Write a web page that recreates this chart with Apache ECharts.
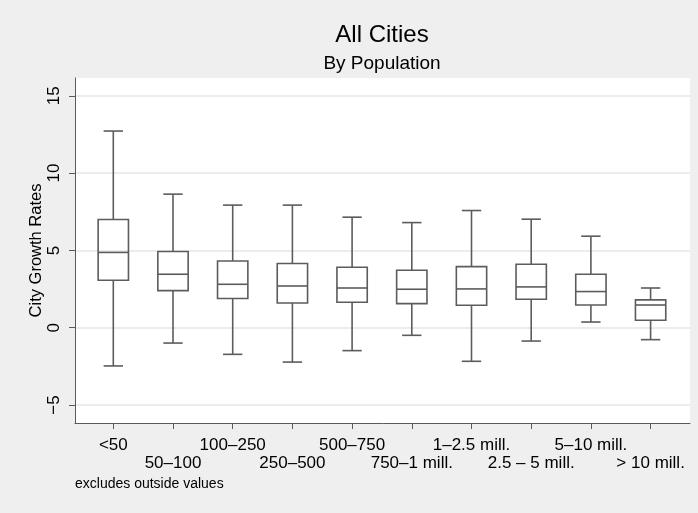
<!DOCTYPE html>
<html><head><meta charset="utf-8">
<script src="https://cdn.jsdelivr.net/npm/echarts@6/dist/echarts.min.js"></script>
<style>html,body{margin:0;padding:0;background:#efefef}#c{width:698px;height:513px}</style>
</head><body><div id="c"></div>
<script>
// ---- data ----
const categories = ['<50', '50–100', '100–250', '250–500', '500–750', '750–1 mill.', '1–2.5 mill.', '2.5 – 5 mill.', '5–10 mill.', '> 10 mill.'];
const whiskerLow  = [-2.47, -0.99, -1.72, -2.22, -1.48, -0.49, -2.17, -0.86, 0.37, -0.77];
const q1          = [ 3.07,  2.40,  1.89,  1.60,  1.65,  1.56,  1.45,  1.84, 1.47,  0.48];
const median      = [ 4.87,  3.46,  2.81,  2.70,  2.57,  2.49,  2.51,  2.64, 2.34,  1.47];
const q3          = [ 7.00,  4.93,  4.32,  4.15,  3.91,  3.72,  3.95,  4.11, 3.46,  1.80];
const whiskerHigh = [12.72,  8.64,  7.93,  7.93,  7.15,  6.80,  7.58,  7.02, 5.92,  2.57];
const yTicks = [-5, 0, 5, 10, 15];
const yMin = -6.16, yMax = 16.15;
const titleText = 'All Cities';
const subtitleText = 'By Population';
const yTitle = 'City Growth Rates';
const noteText = 'excludes outside values';

const FONT = "'Liberation Sans', Arial, Helvetica, sans-serif";
const LINE = '#5c5c5c';
const AXIS = '#5a5a5a';

const boxData = categories.map((c, i) => [i, whiskerLow[i], q1[i], median[i], q3[i], whiskerHigh[i]]);
const fmtY = v => (v < 0 ? '\u2212' + Math.abs(v) : String(v));

const chart = echarts.init(document.getElementById('c'), null, {renderer: 'canvas'});
chart.setOption({
  backgroundColor: '#efefef',
  animation: false,
  title: [
    {text: titleText, left: 377, top: 18, textAlign: 'center', padding: 5,
     textStyle: {fontSize: 24, fontWeight: 'normal', color: '#000', fontFamily: FONT}},
    {text: subtitleText, left: 377, top: 49, textAlign: 'center', padding: 5,
     textStyle: {fontSize: 19, fontWeight: 'normal', color: '#000', fontFamily: FONT}},
    {text: noteText, left: 70, top: 472, padding: 5,
     textStyle: {fontSize: 14, fontWeight: 'normal', color: '#000', fontFamily: FONT}}
  ],
  grid: [
    {left: 75, right: 8, top: 78, bottom: 90, show: true, backgroundColor: '#fff', borderWidth: 0, containLabel: false},
    {left: 83.45, width: 597, top: 78, bottom: 90, containLabel: false}
  ],
  xAxis: [
    {gridIndex: 0, type: 'value', min: 0, max: 1,
     axisLine: {show: true, onZero: false, lineStyle: {color: AXIS, width: 1}},
     axisTick: {show: false}, axisLabel: {show: false}, splitLine: {show: false}},
    {gridIndex: 1, type: 'category', data: categories, boundaryGap: true, position: 'bottom',
     axisLine: {show: false, onZero: false},
     axisTick: {show: true, alignWithLabel: true, length: 6, lineStyle: {color: AXIS, width: 1}},
     axisLabel: {show: true, interval: 0, margin: 13, color: '#000', fontSize: 17, fontFamily: FONT, lineHeight: 18,
       formatter: (v, idx) => (idx % 2 ? '\n' + v : v)},
     splitLine: {show: false}}
  ],
  yAxis: [
    {gridIndex: 0, type: 'value', min: yMin, max: yMax,
     name: yTitle, nameLocation: 'middle', nameRotate: 90, nameGap: 30, nameMoveOverlap: false,
     nameTextStyle: {fontSize: 16.5, color: '#000', fontFamily: FONT},
     axisLine: {show: true, onZero: false, lineStyle: {color: AXIS, width: 1}},
     axisTick: {show: true, length: 6, customValues: yTicks, lineStyle: {color: AXIS, width: 1}},
     axisLabel: {show: true, rotate: 90, margin: 12, customValues: yTicks, color: '#000', fontSize: 17, fontFamily: FONT,
       formatter: fmtY},
     splitLine: {show: true, lineStyle: {color: '#e6e6e6', width: 1.5}}},
    {gridIndex: 1, type: 'value', min: yMin, max: yMax, show: false,
     axisLine: {show: false}, axisTick: {show: false}, axisLabel: {show: false}, splitLine: {show: false}}
  ],
  series: [{
    type: 'custom',
    xAxisIndex: 1, yAxisIndex: 1,
    data: boxData,
    encode: {x: 0, y: [1, 2, 3, 4, 5]},
    renderItem: function (params, api) {
      const i = api.value(0);
      const lo = api.coord([i, api.value(1)]);
      const b1 = api.coord([i, api.value(2)]);
      const md = api.coord([i, api.value(3)]);
      const b3 = api.coord([i, api.value(4)]);
      const hi = api.coord([i, api.value(5)]);
      const band = api.size([1, 0])[0];
      const hw = band * 0.254;
      const cw = band * 0.162;
      const x = lo[0];
      const st = {stroke: LINE, lineWidth: 1.6, fill: null};
      return {type: 'group', children: [
        {type: 'line', shape: {x1: x, y1: hi[1], x2: x, y2: b3[1]}, style: st},
        {type: 'line', shape: {x1: x, y1: b1[1], x2: x, y2: lo[1]}, style: st},
        {type: 'line', shape: {x1: x - cw, y1: hi[1], x2: x + cw, y2: hi[1]}, style: st},
        {type: 'line', shape: {x1: x - cw, y1: lo[1], x2: x + cw, y2: lo[1]}, style: st},
        {type: 'rect', shape: {x: x - hw, y: b3[1], width: 2 * hw, height: b1[1] - b3[1]}, style: {stroke: LINE, lineWidth: 1.6, fill: 'rgba(255,255,255,0)'}},
        {type: 'line', shape: {x1: x - hw, y1: md[1], x2: x + hw, y2: md[1]}, style: st}
      ]};
    }
  }]
});
</script>
</body></html>
